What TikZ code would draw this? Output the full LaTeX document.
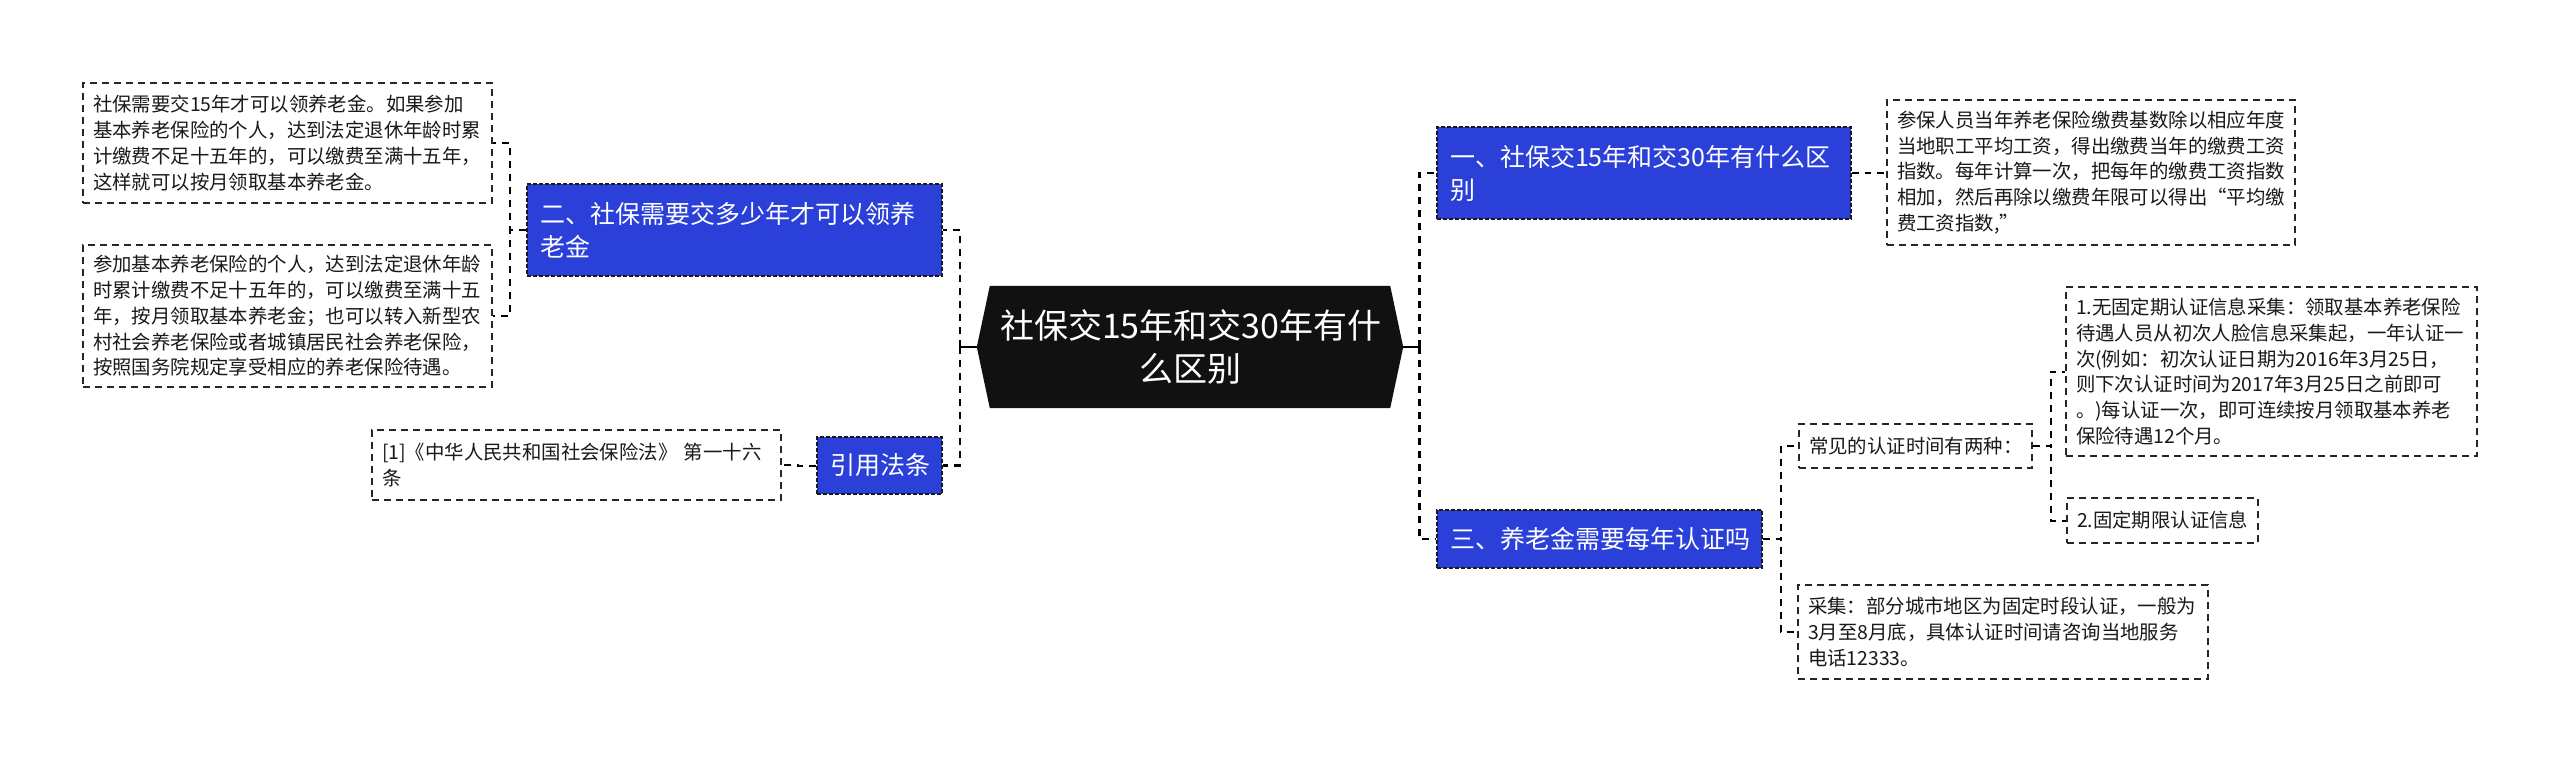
\documentclass[tikz,border=0pt]{standalone}
\usepackage{fontspec}
\setmainfont{Noto Sans CJK SC}
\usetikzlibrary{backgrounds}
\definecolor{topicblue}{RGB}{42,64,216}
\definecolor{rootblack}{RGB}{17,17,17}
\tikzset{
  root/.style = {text=white, font=\fontsize{34}{43}\selectfont, align=center, inner xsep=23pt, minimum height=122pt},
  topic/.style = {fill=topicblue, draw=black!90, dash pattern=on 4pt off 2pt, line width=1.4pt, text=white, font=\fontsize{25}{33}\selectfont, align=left, inner xsep=13pt},
  leaf/.style = {fill=white, draw=black!85, dash pattern=on 7pt off 5pt, line width=1.8pt, text=black!90, font=\fontsize{19.4}{25.8}\selectfont, align=left, inner xsep=10pt},
  stub/.style = {draw=black, line width=2.4pt},
  trunk/.style = {draw=black, dash pattern=on 7pt off 6pt, line width=2.6pt},
  twig/.style = {draw=black, dash pattern=on 7pt off 6pt, line width=2pt}
}

\begin{document}
\begin{tikzpicture}[x=1pt, y=-1pt]
\useasboundingbox (0,0) rectangle (2560,763);
% ROOT
\node[root, text width=380pt] (Root) at (1190,347) {社保交15年和交30年有什\\么区别};
\begin{scope}[on background layer]
\fill[rootblack] (Root.west) -- ([xshift=13pt]Root.north west) -- ([xshift=-13pt]Root.north east) -- (Root.east) -- ([xshift=-13pt]Root.south east) -- ([xshift=13pt]Root.south west) -- cycle;
\end{scope}
% LEFT TOPICS
\node[topic, text width=389pt, minimum height=92pt] (Q-Two) at (734.5,230) {二、社保需要交多少年才可以领养\\老金};
\node[topic, align=center, text width=99pt, minimum height=57pt] (Cite) at (879.5,465.5) {引用法条};
% LEFT LEAVES
\node[leaf, text width=389pt, minimum height=120pt] (S-One) at (287.5,143) {社保需要交15年才可以领养老金。如果参加\\基本养老保险的个人，达到法定退休年龄时累\\计缴费不足十五年的，可以缴费至满十五年，\\这样就可以按月领取基本养老金。};
\node[leaf, text width=389pt, minimum height=142pt] (S-Two) at (287.5,316) {参加基本养老保险的个人，达到法定退休年龄\\时累计缴费不足十五年的，可以缴费至满十五\\年，按月领取基本养老金；也可以转入新型农\\村社会养老保险或者城镇居民社会养老保险，\\按照国务院规定享受相应的养老保险待遇。};
\node[leaf, text width=389pt, minimum height=70pt] (Ref) at (576.5,465) {[1]《中华人民共和国社会保险法》 第一十六\\条};
% RIGHT TOPICS
\node[topic, text width=388pt, minimum height=92pt] (Q-One) at (1644,173) {一、社保交15年和交30年有什么区\\别};
\node[topic, text width=299pt, minimum height=58pt] (Q-Three) at (1599.5,539) {三、养老金需要每年认证吗};
% RIGHT LEAVES
\node[leaf, text width=388pt, minimum height=145pt] (A-One) at (2091,172.5) {参保人员当年养老保险缴费基数除以相应年度\\当地职工平均工资，得出缴费当年的缴费工资\\指数。每年计算一次，把每年的缴费工资指数\\相加，然后再除以缴费年限可以得出“平均缴\\费工资指数,”};
\node[leaf, text width=213pt, minimum height=44pt] (C-Zero) at (1915.5,446) {常见的认证时间有两种：};
\node[leaf, text width=391pt, minimum height=169pt] (C-One) at (2271.5,371.5) {1.无固定期认证信息采集：领取基本养老保险\\待遇人员从初次人脸信息采集起，一年认证一\\次(例如：初次认证日期为2016年3月25日，\\则下次认证时间为2017年3月25日之前即可\\。)每认证一次，即可连续按月领取基本养老\\保险待遇12个月。};
\node[leaf, text width=171pt, minimum height=45pt] (C-Two) at (2162.5,520.5) {2.固定期限认证信息};
\node[leaf, text width=390pt, minimum height=94pt] (C-Three) at (2003,632) {采集：部分城市地区为固定时段认证，一般为\\3月至8月底，具体认证时间请咨询当地服务\\电话12333。};
% TRUNK LINES
\draw[stub] (Root.west) -- ++(-17,0) coordinate (Left-Bus);
\draw[trunk] (Left-Bus) |- (Q-Two.east);
\draw[trunk] (Left-Bus) |- (Cite.east);
\draw[stub] (Root.east) -- ++(16,0) coordinate (Right-Bus);
\draw[trunk] (Right-Bus) |- (Q-One.west);
\draw[trunk] (Right-Bus) |- (Q-Three.west);
% TWIG LINES
\draw[twig] (Q-Two.west) -- ++(-16,0) |- (S-One.east);
\draw[twig] (Q-Two.west) -- ++(-16,0) |- (S-Two.east);
\draw[twig] (Cite.west) -- ++(-18,0) |- (Ref.east);
\draw[twig] (Q-One.east) -- ++(16,0) |- (A-One.west);
\draw[twig] (Q-Three.east) -- ++(18,0) |- (C-Zero.west);
\draw[twig] (Q-Three.east) -- ++(18,0) |- (C-Three.west);
\draw[twig] (C-Zero.east) -- ++(18,0) |- (C-One.west);
\draw[twig] (C-Zero.east) -- ++(18,0) |- (C-Two.west);
\end{tikzpicture}
\end{document}
